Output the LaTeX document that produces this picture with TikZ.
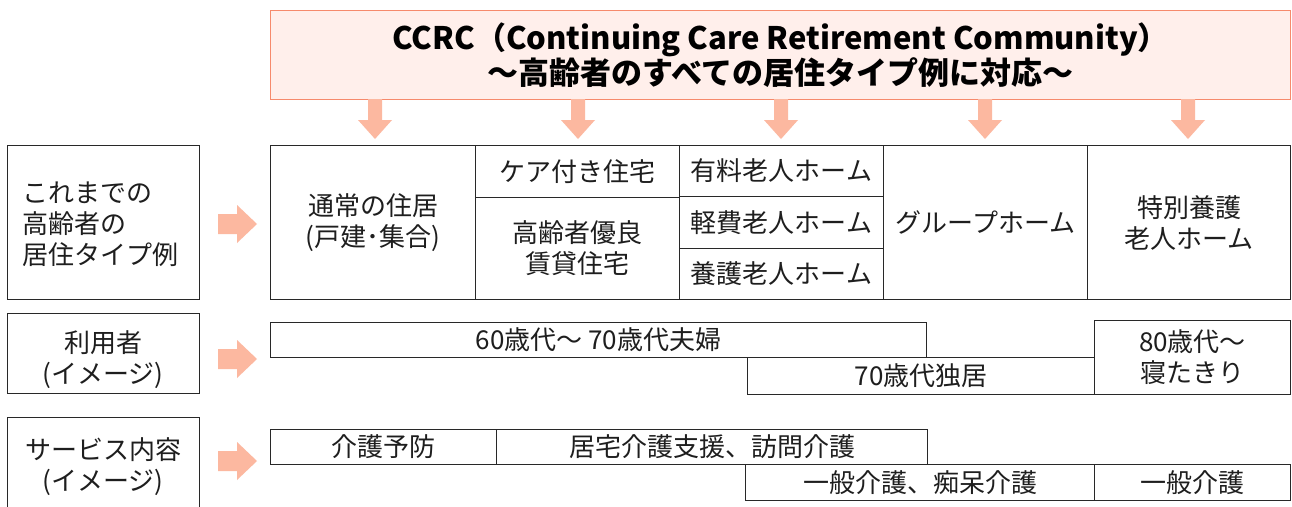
\documentclass[tikz,border=0pt]{standalone}
\usepackage{fontspec}
\setmainfont{Noto Sans CJK JP}
\usetikzlibrary{positioning}
\definecolor{titlefill}{RGB}{255,239,235}
\definecolor{titleline}{RGB}{246,138,108}
\definecolor{arrowc}{RGB}{252,184,160}
\definecolor{ink}{RGB}{30,30,30}
\definecolor{gridc}{RGB}{40,40,40}
\tikzset{
  cell/.style={draw=gridc, line width=1pt, anchor=north west, inner sep=0pt, align=center, font=\fontsize{26}{31}\selectfont, text=ink},
  lbl/.style={draw=gridc, line width=1pt, anchor=north west, inner sep=0pt, font=\fontsize{26}{31}\selectfont, text=ink},
  lbltext/.style={inner sep=0pt, font=\fontsize{26}{31}\selectfont, text=ink},
}
\begin{document}
\begin{tikzpicture}[x=1pt,y=-1pt]
\clip (0,0) rectangle (1292,506);
\fill[white] (0,0) rectangle (1292,506);
% title
\node (title) [draw=titleline, fill=titlefill, line width=1.3pt, anchor=north west, minimum width=1020pt, minimum height=89pt, inner sep=0pt, align=center, font=\fontsize{31}{35}\selectfont\bfseries, text=black] at (270,10) {CCRC（Continuing Care Retirement Community）\\～高齢者のすべての居住タイプ例に対応～};
% down arrows
\foreach \cx in {375,578,781,985,1188} {
  \fill[arrowc] (\cx-7,99) -- (\cx+7,99) -- (\cx+7,120) -- (\cx+17,120) -- (\cx,139) -- (\cx-17,120) -- (\cx-7,120) -- cycle;
}
% left labels
\node (l1) [lbl, minimum width=192pt, minimum height=154pt] at (7,145) {};
\node (l1t) [lbltext, anchor=west, align=left] at (22,224) {これまでの\\高齢者の\\居住タイプ例};
\node (l2) [lbl, minimum width=192pt, minimum height=80pt] at (7,313) {};
\node (l2t) [lbltext, align=center] at (103,360) {利用者\\(イメージ)};
\node (l3) [lbl, minimum width=192pt, minimum height=100pt] at (7,417) {};
\node (l3t) [lbltext, align=center] at (103,467) {サービス内容\\(イメージ)};
% block arrows
\foreach \cy in {224,359,461} {
  \fill[arrowc] (218,\cy-10) -- (237,\cy-10) -- (237,\cy-19) -- (257,\cy) -- (237,\cy+19) -- (237,\cy+10) -- (218,\cy+10) -- cycle;
}
% table
\node (c1) [cell, minimum width=205pt, minimum height=154pt] at (270,145) {通常の住居\\(戸建･集合)};
\node (c2a) [cell, minimum width=204pt, minimum height=52pt] at (475,145) {ケア付き住宅};
\node (c2b) [cell, minimum width=204pt, minimum height=102pt] at (475,197) {高齢者優良\\賃貸住宅};
\node (c3a) [cell, minimum width=204pt, minimum height=51pt] at (679,145) {有料老人ホーム};
\node (c3b) [cell, minimum width=204pt, minimum height=52pt] at (679,196) {軽費老人ホーム};
\node (c3c) [cell, minimum width=204pt, minimum height=51pt] at (679,248) {養護老人ホーム};
\node (c4) [cell, minimum width=204pt, minimum height=154pt] at (883,145) {グループホーム};
\node (c5) [cell, minimum width=203pt, minimum height=154pt] at (1087,145) {特別養護\\老人ホーム};
% users
\node (u1) [cell, minimum width=656pt, minimum height=35pt] at (270,322) {60歳代～ 70歳代夫婦};
\node (u2) [cell, minimum width=347pt, minimum height=37pt] at (747,357) {70歳代独居};
\node (u3) [cell, minimum width=196pt, minimum height=74pt] at (1094,320) {80歳代～\\寝たきり};
% services
\node (s1) [cell, minimum width=226pt, minimum height=35pt] at (270,429) {介護予防};
\node (s2) [cell, minimum width=431pt, minimum height=35pt] at (496,429) {居宅介護支援、訪問介護};
\node (s3) [cell, minimum width=349pt, minimum height=36pt] at (745,464) {一般介護、痴呆介護};
\node (s4) [cell, minimum width=196pt, minimum height=36pt] at (1094,464) {一般介護};
\end{tikzpicture}
\end{document}
